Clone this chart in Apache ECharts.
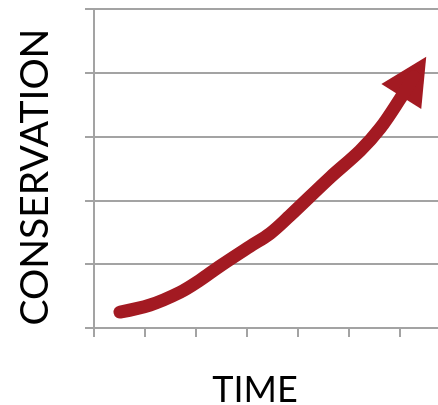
<!DOCTYPE html>
<html>
<head>
<meta charset="utf-8">
<script src="https://cdn.jsdelivr.net/npm/echarts@6/dist/echarts.min.js"></script>
<style>html,body{margin:0;padding:0;background:#fff}#c{width:438px;height:405px}</style>
</head>
<body>
<div id="c"></div>
<script>
// Data (axis units: x = time ticks, y = gridline steps)
const timeValues = [0.51, 1.10, 1.69, 2.08, 2.47, 3.06, 3.45, 3.84, 4.63, 5.22, 5.61, 6.00, 6.27];
const conservationValues = [0.25, 0.36, 0.56, 0.75, 0.97, 1.28, 1.48, 1.76, 2.36, 2.78, 3.13, 3.59, 3.94];
const arrowPoint = [6.27, 3.94];
const xTitle = 'TIME';
const yTitle = 'CONSERVATION';

const red = '#a31a22';
const gray = '#a3a3a3';
const font = 'Lato, "Open Sans", sans-serif';

const lineData = timeValues.map((t, i) => [t, conservationValues[i]]);

const chart = echarts.init(document.getElementById('c'), null, {renderer: 'canvas'});
chart.setOption({
  animation: false,
  backgroundColor: '#fff',
  grid: {left: 94, width: 357, top: 9, bottom: 77, containLabel: false, outerBoundsMode: 'none'},
  xAxis: {
    type: 'value', min: 0, max: 7, interval: 1,
    axisLine: {show: true, lineStyle: {color: gray, width: 2}},
    axisTick: {show: true, length: 9, lineStyle: {color: gray, width: 2}},
    axisLabel: {show: false},
    splitLine: {show: false}
  },
  yAxis: {
    type: 'value', min: 0, max: 5, interval: 1,
    axisLine: {show: true, lineStyle: {color: gray, width: 2}},
    axisTick: {show: true, length: 9, lineStyle: {color: gray, width: 2}},
    axisLabel: {show: false},
    splitLine: {show: true, lineStyle: {color: gray, width: 2}}
  },
  series: [
    {
      type: 'line',
      data: lineData,
      smooth: 0.35,
      symbol: 'none',
      clip: false,
      lineStyle: {color: red, width: 13, cap: 'round', join: 'round'},
      emphasis: {disabled: true},
      silent: true
    },
    {
      type: 'scatter',
      data: [arrowPoint],
      symbol: 'triangle',
      symbolSize: [47, 47],
      symbolRotate: -32,
      itemStyle: {color: red, opacity: 1},
      emphasis: {disabled: true},
      silent: true,
      clip: false
    }
  ],
  graphic: [
    {
      type: 'text', x: 35, y: 177, rotation: Math.PI / 2,
      style: {text: yTitle, font: '39px ' + font, fill: '#000', textAlign: 'center', textVerticalAlign: 'middle'}
    },
    {
      type: 'text', x: 255, y: 390,
      style: {text: xTitle, font: '36px ' + font, fill: '#000', textAlign: 'center', textVerticalAlign: 'middle'}
    }
  ]
});
</script>
</body>
</html>
